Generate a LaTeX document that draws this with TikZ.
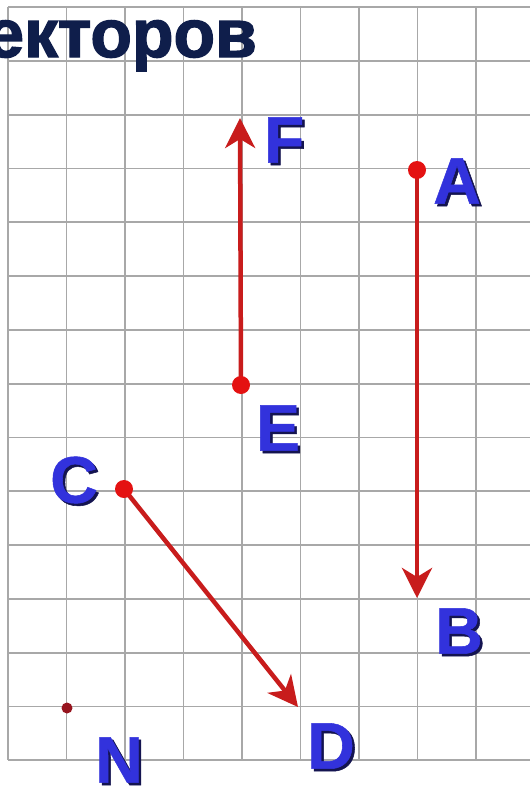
\documentclass[tikz,border=0pt]{standalone}
\usepackage{fontspec}
\setmainfont{Liberation Sans}
\newfontfamily\titlefont{Liberation Sans Bold}[FakeBold=2]
\newfontfamily\lblfont{Liberation Sans Bold}[FakeBold=0.8]
\usetikzlibrary{arrows.meta}
\definecolor{gridgray}{RGB}{168,168,168}
\definecolor{vecred}{RGB}{200,28,28}
\definecolor{dotred}{RGB}{228,18,18}
\definecolor{ndot}{RGB}{150,20,30}
\definecolor{lblblue}{RGB}{50,50,220}
\definecolor{lblshadow}{RGB}{20,20,80}
\definecolor{titlenavy}{RGB}{15,30,75}
\tikzset{
  gridline/.style={draw=gridgray, line width=1.8pt},
  vec/.style={draw=vecred, line width=4.5pt, -{Stealth[length=30pt,width=30pt,inset=9pt,fill=vecred]}},
  ptdot/.style={circle, fill=dotred, inner sep=0pt, minimum size=18pt},
  ndotst/.style={circle, fill=ndot, inner sep=0pt, minimum size=11pt},
  lbl/.style={font=\fontsize{66}{66}\selectfont\lblfont, text=lblblue, inner sep=0pt},
  lblsh/.style={lbl, text=lblshadow, xshift=2.5pt, yshift=-2.5pt},
  titlest/.style={font=\fontsize{68}{68}\selectfont\titlefont, text=titlenavy, inner sep=0pt, anchor=base west}
}
\newcommand\ptlabel[3]{%
  \node[lblsh] (#1s) at (#2) {#3};
  \node[lbl] (#1) at (#2) {#3};}
\begin{document}
\begin{tikzpicture}[x=1pt,y=-1pt]
\fill[white] (0,0) rectangle (530,792);
\useasboundingbox (0,0) rectangle (530,792);
% grid
\foreach \i in {0,...,8} \draw[gridline] ({8+58.5*\i},7) -- ({8+58.5*\i},760);
\foreach \j in {0,...,14} \draw[gridline] (8,{7+53.8*\j}) -- (530,{7+53.8*\j});
% points
\coordinate (A) at (417,170);
\coordinate (B) at (417,598);
\coordinate (C) at (124,489);
\coordinate (D) at (298,707);
\coordinate (E) at (241,385);
\coordinate (F) at (240,118);
\coordinate (N) at (67,708);
% vectors
\draw[vec] (A) -- (B);
\draw[vec] (E) -- (F);
\draw[vec] (C) -- (D);
\node[ptdot] (Adot) at (A) {};
\node[ptdot] (Edot) at (E) {};
\node[ptdot] (Cdot) at (C) {};
\node[ndotst] (Ndot) at (N) {};
% labels
\ptlabel{Fl}{284,140}{F}
\ptlabel{Al}{457,181}{A}
\ptlabel{El}{278,428}{E}
\ptlabel{Bl}{459,631}{B}
\ptlabel{Dl}{331,746}{D}
\ptlabel{Cl}{74,480}{C}
\ptlabel{Nl}{119,760}{N}
% title
\node[titlest] (title) at (-14,57) {екторов};
\end{tikzpicture}
\end{document}
